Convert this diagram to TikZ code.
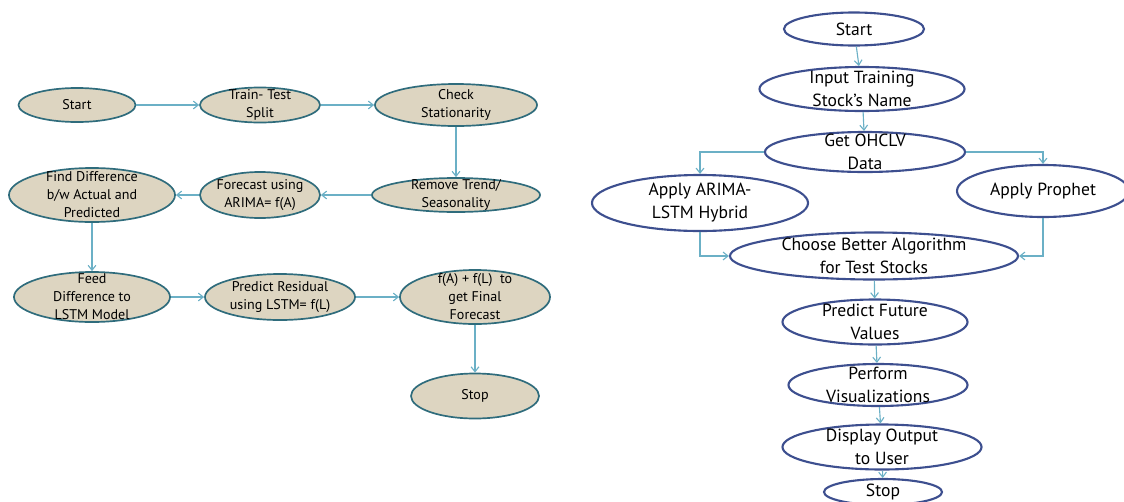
\documentclass[tikz,border=0pt]{standalone}
\usepackage{fontspec}
\setmainfont{PT Sans}
\usetikzlibrary{shapes.geometric,arrows.meta}

\definecolor{tanfill}{HTML}{DDD5C1}
\definecolor{tealline}{HTML}{2F6C7C}
\definecolor{navyline}{HTML}{3D4F8F}
\definecolor{arrowblue}{HTML}{6BB0C6}

\begin{document}
\begin{tikzpicture}[x=0.025cm,y=-0.025cm,
	oval/.style 2 args={ellipse, inner sep=0pt, minimum width=#1*0.7113pt, minimum height=#2*0.7113pt},
	lstep/.style={draw=tealline, line width=1.2pt, fill=tanfill},
	rstep/.style={draw=navyline, line width=1.5pt, fill=white},
	ltxt/.style={align=center, font=\fontsize{10}{12.8}\selectfont, inner sep=0pt},
	rtxt/.style={align=center, font=\fontsize{12.5}{16.3}\selectfont, inner sep=0pt},
	arr/.style={draw=arrowblue, line width=0.8pt, -{Straight Barb[length=3.5pt,width=5.5pt]}}]
	\useasboundingbox (0,0) rectangle (1124,501);
	\node[oval={117}{34}, lstep, label={[ltxt]center:Start}] (lstart) at (77,105) {};
	\node[oval={120}{35}, lstep, label={[ltxt]center:{Train- Test\\Split}}] (ltrain) at (260,105) {};
	\node[oval={162}{42}, lstep, label={[ltxt]center:{Check\\Stationarity}}] (lcheck) at (456,105) {};
	\node[oval={168}{34}, lstep, label={[ltxt]center:{Remove Trend/\\Seasonality}}] (lremove) at (456,195) {};
	\node[oval={120}{46}, lstep, label={[ltxt]center:{Forecast using\\ARIMA= f(A)}}] (lforecast) at (260,195) {};
	\node[oval={166}{54}, lstep, label={[ltxt]center:{Find Difference\\b/w Actual and\\Predicted}}] (ldiff) at (92,195) {};
	\node[oval={156}{50}, lstep, label={[ltxt]center:{Feed\\Difference to\\LSTM Model}}] (lfeed) at (92,297) {};
	\node[oval={150}{46}, lstep, label={[ltxt]center:{Predict Residual\\using LSTM= f(L)}}] (lresid) at (280,297) {};
	\node[oval={150}{54}, lstep, label={[ltxt]center:{f(A) + f(L)\ \ to\\get Final\\Forecast}}] (lfinal) at (475,297) {};
	\node[oval={128}{45}, lstep, label={[ltxt]center:Stop}] (lstop) at (475,396) {};
	\draw[arr] (lstart) -- (ltrain);
	\draw[arr] (ltrain) -- (lcheck);
	\draw[arr] (lcheck) -- (lremove);
	\draw[arr] (lremove) -- (lforecast);
	\draw[arr] (lforecast) -- (ldiff);
	\draw[arr] (ldiff) -- (lfeed);
	\draw[arr] (lfeed) -- (lresid);
	\draw[arr] (lresid) -- (lfinal);
	\draw[arr] (lfinal) -- (lstop);
	\node[oval={140}{33}, rstep, label={[rtxt]center:Start}] (rstart) at (854,29) {};
	\node[oval={205}{44}, rstep, label={[rtxt]center:{Input Training\\Stock's Name}}] (rinput) at (862,89) {};
	\node[oval={200}{40}, rstep, label={[rtxt]center:{Get OHCLV\\Data}}] (rget) at (865,152) {};
	\node[oval={216}{56}, rstep, label={[rtxt]center:{Apply ARIMA-\\LSTM Hybrid}}] (rarima) at (700,203) {};
	\node[oval={172}{52}, rstep, label={[rtxt]center:Apply Prophet}] (rprophet) at (1043,191) {};
	\node[oval={288}{47}, rstep, label={[rtxt]center:{Choose Better Algorithm\\for Test Stocks}}] (rchoose) at (874,256) {};
	\node[oval={185}{45}, rstep, label={[rtxt]center:{Predict Future\\Values}}] (rpredict) at (875,322) {};
	\node[oval={179}{42}, rstep, label={[rtxt]center:{Perform\\Visualizations}}] (rperform) at (878,385) {};
	\node[oval={199}{45}, rstep, label={[rtxt]center:{Display Output\\to User}}] (rdisplay) at (882,447) {};
	\node[oval={118}{26}, rstep, label={[rtxt]center:Stop}] (rstop) at (883,492) {};
	\draw[arr] (rstart) -- (rinput);
	\draw[arr] (rinput) -- (rget);
	\draw[arr] (rget.west) -| (rarima.north);
	\draw[arr] (rget.east) -| (rprophet.north);
	\draw[arr] (rarima.south) |- (rchoose.west);
	\draw[arr] (rprophet.south) |- (rchoose.east);
	\draw[arr] (rchoose) -- (rpredict);
	\draw[arr] (rpredict) -- (rperform);
	\draw[arr] (rperform) -- (rdisplay);
	\draw[arr] (rdisplay) -- (rstop);
\end{tikzpicture}
\end{document}
